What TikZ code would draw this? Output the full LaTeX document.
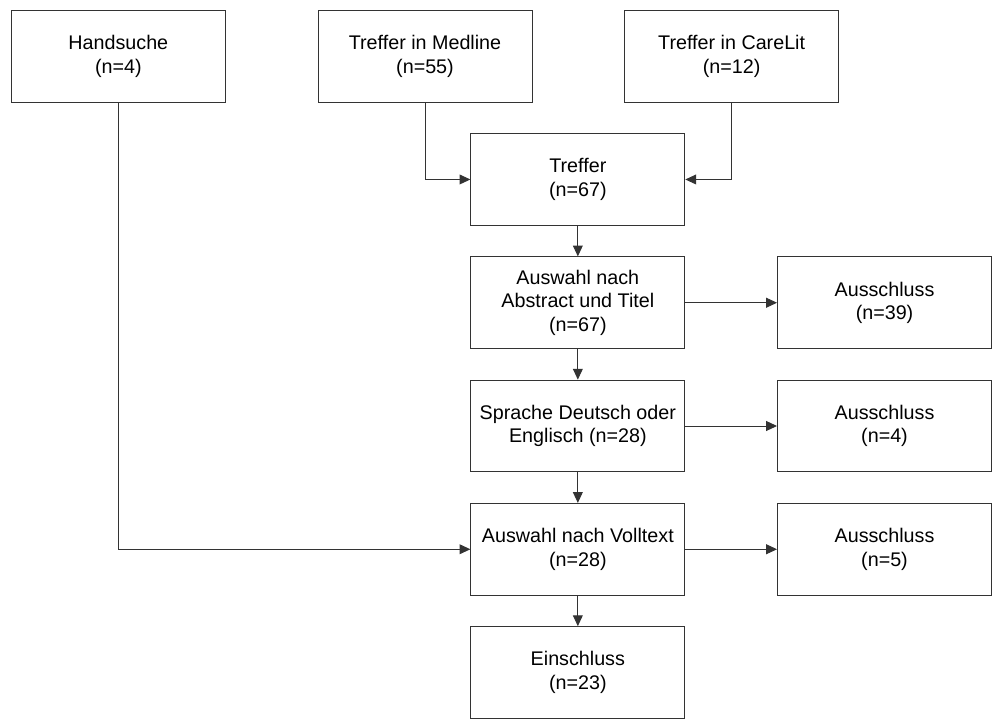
\documentclass[tikz,border=0pt]{standalone}
\usepackage{fontspec}
\setmainfont{Liberation Sans}
\usetikzlibrary{positioning,arrows.meta,calc}

\begin{document}
\begin{tikzpicture}[
    font=\fontsize{10}{12}\selectfont,
    box/.style={
        draw=black!80,
        line width=0.5pt,
        minimum width=108.5pt,
        minimum height=46.5pt,
        inner sep=2pt,
        align=center
    },
    arrow/.style={-{Triangle[length=5.5pt,width=5pt]}, line width=0.5pt, draw=black!80}
]

% ============================================================
% QUELLEN
% ============================================================
\node[box] (hand) {Handsuche\\(n=4)};
\node[box, right=46.5pt of hand] (medline) {Treffer in Medline\\(n=55)};
\node[box, right=46.5pt of medline] (carelit) {Treffer in CareLit\\(n=12)};

% ============================================================
% SCREENING
% ============================================================
\node[box, below=15.5pt of medline, xshift=77.5pt] (treffer) {Treffer\\(n=67)};
\node[box, below=15.5pt of treffer] (abstract) {Auswahl nach\\Abstract und Titel\\(n=67)};
\node[box, below=15.5pt of abstract] (sprache) {Sprache Deutsch oder\\Englisch (n=28)};
\node[box, below=15.5pt of sprache] (volltext) {Auswahl nach Volltext\\(n=28)};
\node[box, below=15.5pt of volltext] (einschluss) {Einschluss\\(n=23)};

% ============================================================
% AUSSCHLUESSE
% ============================================================
\node[box, right=46.5pt of abstract] (aus1) {Ausschluss\\(n=39)};
\node[box, right=46.5pt of sprache] (aus2) {Ausschluss\\(n=4)};
\node[box, right=46.5pt of volltext] (aus3) {Ausschluss\\(n=5)};

\draw[arrow] (medline) |- (treffer);
\draw[arrow] (carelit) |- (treffer);
\draw[arrow] (hand) |- (volltext);

\draw[arrow] (treffer) -- (abstract);
\draw[arrow] (abstract) -- (sprache);
\draw[arrow] (sprache) -- (volltext);
\draw[arrow] (volltext) -- (einschluss);

\draw[arrow] (abstract) -- (aus1);
\draw[arrow] (sprache) -- (aus2);
\draw[arrow] (volltext) -- (aus3);

\useasboundingbox ($(hand.north west)+(-5.5pt,5pt)$) rectangle ++(496pt,-360pt);

\end{tikzpicture}
\end{document}
